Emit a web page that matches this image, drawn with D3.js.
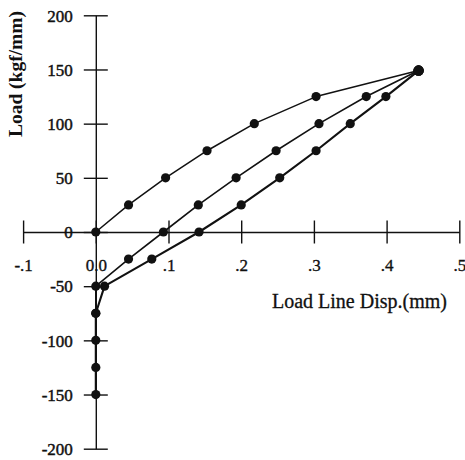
<!DOCTYPE html>
<html>
<head>
<meta charset="utf-8">
<script src="https://cdn.jsdelivr.net/npm/d3@7"></script>
<style>
  html, body { margin: 0; padding: 0; background: #fff; }
  svg { display: block; }
  text { font-family: "Liberation Serif", "Times New Roman", serif; fill: #111; }
</style>
</head>
<body>
<svg id="chart" width="465" height="460"></svg>
<script>
// ---- data ----
const xTicks = [-0.1, 0, 0.1, 0.2, 0.3, 0.4, 0.5];
const xTickLabels = ["-.1", "0.0", ".1", ".2", ".3", ".4", ".5"];
const yTicks = [200, 150, 100, 50, 0, -50, -100, -150, -200];
const yTickLabels = ["200", "150", "100", "50", "0", "-50", "-100", "-150", "-200"];

// loading curve (upper)
const curveA_x = [0.000, 0.045, 0.096, 0.153, 0.218, 0.303, 0.444];
const curveA_y = [0, 25, 50, 75, 100, 125, 149];
// middle curve
const curveB_x = [0.444, 0.372, 0.307, 0.248, 0.193, 0.141, 0.093, 0.045, 0.000, 0.000];
const curveB_y = [149, 125, 100, 75, 50, 25, 0, -25, -50, -75];
// lower curve continuing to compression
const curveC_x = [0.444, 0.399, 0.350, 0.303, 0.253, 0.200, 0.142, 0.077, 0.012, 0.000, 0.000, 0.000, 0.000];
const curveC_y = [149, 125, 100, 75, 50, 25, 0, -25, -50, -75, -100, -125, -150];

const xTitle = "Load Line Disp.(mm)";
const yTitle = "Load (kgf/mm)";

// ---- chart ----
const svg = d3.select("#chart");
const x = d3.scaleLinear().domain([-0.1, 0.5]).range([23.1, 459.3]);
const y = d3.scaleLinear().domain([-200, 200]).range([448.7, 15.3]);
const x0 = x(0), y0 = y(0);

// X axis
const xAxis = d3.axisBottom(x).tickValues(xTicks).tickSizeOuter(0).tickSizeInner(12)
  .tickFormat((d, i) => xTickLabels[i]);
const gx = svg.append("g").attr("transform", `translate(0,${y0})`).call(xAxis);
gx.select(".domain").attr("stroke", "#111").attr("stroke-width", 1.4);
gx.selectAll(".tick line").attr("y1", -11.5).attr("y2", 11.5).attr("stroke", "#111").attr("stroke-width", 1.4);
gx.selectAll(".tick text").attr("y", 39).attr("dy", 0).attr("font-size", 17)
  .attr("font-family", "Liberation Serif").attr("fill", "#111")
  .attr("stroke", "#111").attr("stroke-width", 0.35);

// Y axis
const yAxis = d3.axisLeft(y).tickValues(yTicks).tickSizeOuter(0).tickSizeInner(12)
  .tickFormat((d, i) => yTickLabels[i]);
const gy = svg.append("g").attr("transform", `translate(${x0},0)`).call(yAxis);
gy.select(".domain").attr("stroke", "#111").attr("stroke-width", 1.4);
gy.selectAll(".tick line").attr("x1", -12).attr("x2", 12).attr("stroke", "#111").attr("stroke-width", 1.4);
gy.selectAll(".tick text").attr("x", -23).attr("dy", "0.34em").attr("font-size", 17)
  .attr("font-family", "Liberation Serif").attr("fill", "#111")
  .attr("stroke", "#111").attr("stroke-width", 0.45);

// lines
const line = d3.line().x(d => x(d[0])).y(d => y(d[1]));
const zip = (xs, ys) => xs.map((v, i) => [v, ys[i]]);
const series = [
  { pts: zip(curveA_x, curveA_y), w: 1.5 },
  { pts: zip(curveB_x, curveB_y), w: 1.6 },
  { pts: zip(curveC_x, curveC_y), w: 2.1 }
];
series.forEach(s => {
  svg.append("path").datum(s.pts).attr("d", line)
    .attr("fill", "none").attr("stroke", "#111").attr("stroke-width", s.w)
    .attr("stroke-linejoin", "round");
});
series.forEach(s => {
  svg.append("g").selectAll("circle").data(s.pts).join("circle")
    .attr("cx", d => x(d[0])).attr("cy", d => y(d[1]))
    .attr("r", (d) => d[1] === 149 ? 5.2 : 4.6).attr("fill", "#111");
});

// titles
svg.append("text").attr("x", 272).attr("y", 308).attr("font-size", 20)
  .attr("stroke", "#111").attr("stroke-width", 0.3)
  .text(xTitle);
svg.append("text").attr("transform", "translate(22,74) rotate(-90)")
  .attr("text-anchor", "middle").attr("font-size", 19.5).attr("font-weight", "bold")
  .text(yTitle);
</script>
</body>
</html>
